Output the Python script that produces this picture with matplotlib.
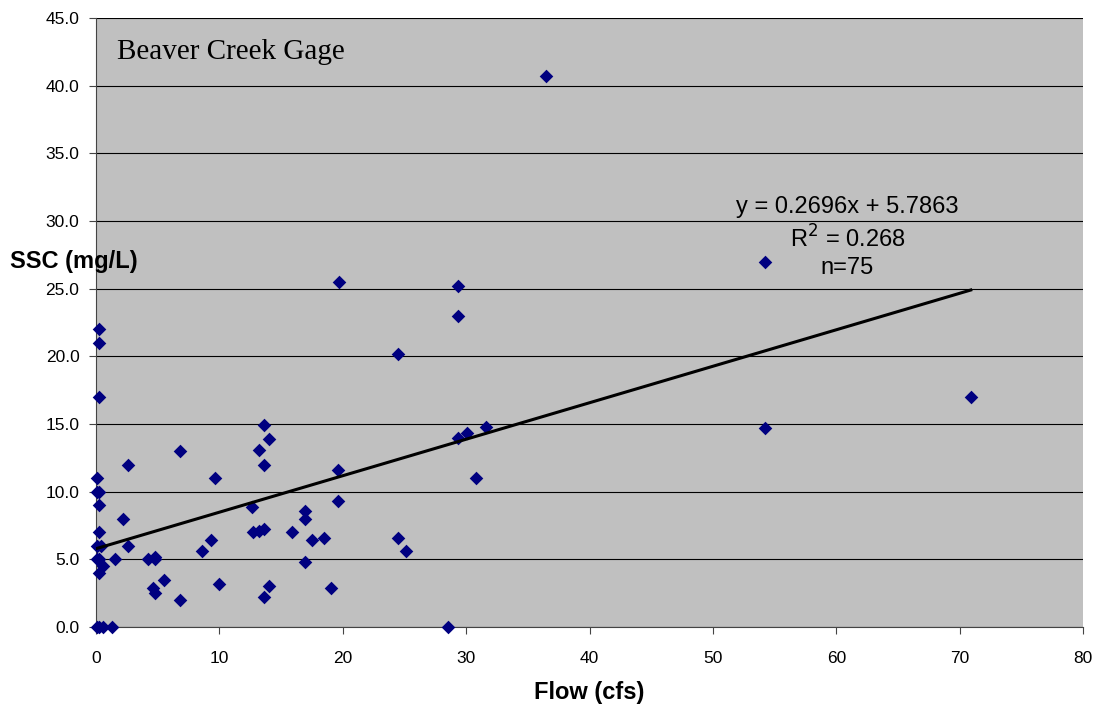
import matplotlib
matplotlib.use("Agg")
import matplotlib.pyplot as plt
import numpy as np

# flow (cfs) and SSC (mg/L)
flow = [36.5, 54.2, 54.2, 70.9, 0.2, 0.2, 0.2, 0.1, 0.1, 0.2,
        0.2, 0.2, 0.1, 0.4, 0.2, 0.6, 0.2, 1.5, 2.6, 2.2,
        2.6, 4.2, 4.8, 4.8, 5.5, 4.6, 4.8, 6.8, 6.8, 9.65,
        8.6, 9.3, 10.0, 12.6, 12.7, 13.2, 13.6, 13.6, 13.6, 14.0,
        13.2, 13.6, 19.6, 19.6, 16.9, 16.9, 15.9, 17.5, 18.5, 16.9,
        14.0, 19.05, 29.3, 29.3, 24.5, 29.3, 30.1, 31.6, 30.8, 24.5,
        25.1, 28.5, 19.7, 0.2, 0.6, 1.3, 0.1, 0.05]
ssc = [40.7, 27.0, 14.7, 17.0, 22.0, 21.0, 17.0, 11.0, 10.0, 10.0,
       9.0, 7.0, 6.0, 6.0, 5.0, 4.5, 4.0, 5.0, 12.0, 8.0,
       6.0, 5.0, 5.2, 5.0, 3.5, 2.9, 2.5, 2.0, 13.0, 11.0,
       5.6, 6.4, 3.2, 8.9, 7.0, 7.1, 7.25, 2.2, 14.9, 13.9,
       13.1, 12.0, 11.6, 9.3, 8.55, 8.0, 7.05, 6.4, 6.55, 4.8,
       3.05, 2.85, 25.2, 23.0, 20.2, 14.0, 14.3, 14.75, 11.0, 6.6,
       5.6, 0.0, 25.5, 0.0, 0.0, 0.0, 5.0, 0.0]

slope = 0.2696
intercept = 5.7863
r2 = 0.268
n_obs = 75

plt.rcParams["font.family"] = "Liberation Sans"

fig = plt.figure(figsize=(10.94, 7.07), dpi=100)
ax = fig.add_axes([0.0878, 0.1132, 0.9022, 0.8613])
ax.set_facecolor("#C0C0C0")

ax.scatter(flow, ssc, marker="D", s=48, color="#000080", zorder=3, linewidths=0,
           clip_on=False)

xl = np.array([0, max(flow)])
ax.plot(xl, slope * xl + intercept, color="black", lw=2.2, zorder=4)

ax.set_xlim(0, 80)
ax.set_ylim(0, 45)
ax.set_xticks(np.arange(0, 81, 10))
ax.set_yticks(np.arange(0, 45.1, 5))
ax.set_yticklabels(["%.1f" % v for v in np.arange(0, 45.1, 5)])
ax.yaxis.grid(True, color="black", lw=0.8)
ax.set_axisbelow(True)
ax.tick_params(direction="out", length=5, color="#444444", labelsize=12.5)
ax.tick_params(axis="x", pad=12)
ax.tick_params(axis="y", pad=7)
for s in ["top", "right"]:
    ax.spines[s].set_visible(False)
for s in ["left", "bottom"]:
    ax.spines[s].set_color("#444444")

ax.set_xlabel("Flow (cfs)", fontsize=17, fontweight="bold", labelpad=11)
fig.text(10 / 1094, 1 - 262 / 707, "SSC (mg/L)", fontsize=17, fontweight="bold",
         ha="left", va="center")

ax.text(1.7, 42.5, "Beaver Creek Gage", fontsize=21, family="Liberation Serif",
        ha="left", va="center")
ax.text(60.9, 31.0, "y = %.4fx + %.4f" % (slope, intercept), fontsize=17,
        ha="center", va="center")
ax.text(60.9, 28.7, "R$^2$ = %.3f" % r2, fontsize=17, ha="center", va="center")
ax.text(60.9, 26.5, "n=%d" % n_obs, fontsize=17, ha="center", va="center")

fig.savefig("out.png", dpi=100)
